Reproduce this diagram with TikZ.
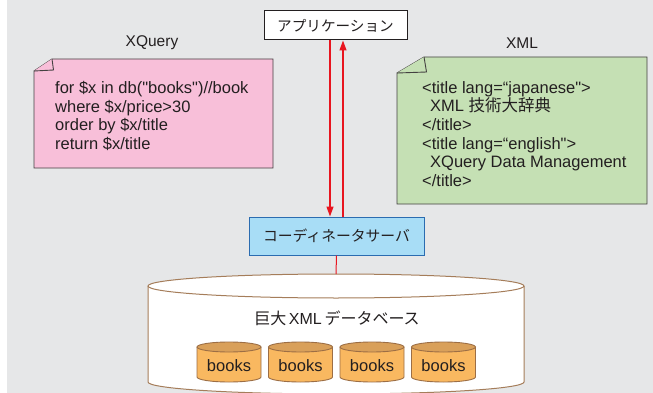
\documentclass[tikz,border=0pt]{standalone}
\usepackage{fontspec}
\setmainfont{Liberation Sans}[Ligatures=TeXOff]
\newfontfamily\jp{Noto Sans CJK JP}
\usetikzlibrary{arrows.meta}
\definecolor{bg}{HTML}{E6E7E8}
\definecolor{notepink}{HTML}{F8BFD9}
\definecolor{notegreen}{HTML}{C5E0B4}
\definecolor{coordblue}{HTML}{A8DDF6}
\definecolor{coordedge}{HTML}{2B6CB0}
\definecolor{bookbody}{HTML}{F9B860}
\definecolor{booktopc}{HTML}{D9A05A}
\definecolor{bookedge}{HTML}{9C6E45}
\definecolor{dbedge}{HTML}{A57D5A}
\definecolor{arrred}{HTML}{E8151F}
\definecolor{ink}{HTML}{231F20}
\begin{document}
\begin{tikzpicture}[x=1pt,y=-1pt,
  noteshape/.style={draw=ink!85,line width=0.9pt},
  codetext/.style={anchor=north west,inner sep=0pt,align=left,text=ink,
    font=\fontsize{16.5}{18.7}\selectfont},
  titletext/.style={inner sep=0pt,text=ink,font=\fontsize{15.5}{18}\selectfont},
  appbox/.style={draw=ink,line width=1pt,fill=white,minimum width=143pt,
    minimum height=29pt,inner sep=0pt,text=ink,font=\jp\fontsize{14.6}{16}\selectfont},
  coordbox/.style={draw=coordedge,line width=1pt,fill=coordblue,minimum width=175pt,
    minimum height=38pt,inner sep=0pt,text=ink,font=\jp\fontsize{14.8}{16}\selectfont},
  redline/.style={draw=arrred,line width=1.3pt},
  redarrow/.style={redline,-{Triangle[length=10pt,width=7pt]}},
  bookline/.style={draw=bookedge,line width=0.9pt},
  booktext/.style={inner sep=0pt,text=ink,font=\fontsize{16.5}{18}\selectfont},
  dblabel/.style={inner sep=0pt,text=ink,font=\fontsize{16}{18}\selectfont}]
\fill[white] (0,0) rectangle (653,393);
\useasboundingbox (0,0) rectangle (653,393);
\fill[bg] (7,0) rectangle (653,393);

% XQuery note
\node[titletext] (xqtitle) at (152,43) {XQuery};
\path[noteshape,fill=notepink] (34,71) -- (52,59) -- (273,59) -- (273,168) -- (34,168) -- cycle;
\path[noteshape,fill=notepink] (52,59) -- (53.5,70) -- (34,71);
\node[codetext] (xqcode) at (55,81) {for \$x in db("books")//book\\where \$x/price>30\\order by \$x/title\\return \$x/title};

% XML note
\node[titletext] (xmltitle) at (522,43) {XML};
\path[noteshape,fill=notegreen] (397,73) -- (424,57) -- (647,57) -- (647,204) -- (397,204) -- cycle;
\path[noteshape,fill=notegreen] (424,57) -- (426.5,72) -- (397,73);
\node[codetext] (xmlcode) at (422,81) {<title lang=“japanese">\\\hspace*{8pt}XML {\jp 技術大辞典}\\</title>\\<title lang=“english">\\\hspace*{8pt}XQuery Data Management\\</title>};

% application and coordinator
\node[appbox] (app) at (335.5,25.5) {アプリケーション};
\node[coordbox] (coord) at (336.5,236) {コーディネータサーバ};
\draw[redarrow] (app.south -| 330,0) -- (coord.north -| 330,0);
\draw[redarrow] (coord.north -| 343,0) -- (app.south -| 343,0);

% database cylinder
\coordinate (dbtop) at (336,274);
\fill[white] (148,286) -- (148,382) arc[start angle=180,end angle=0,x radius=188,y radius=12] -- (524,286) -- cycle;
\draw[draw=dbedge,line width=1pt] (148,286) -- (148,382) arc[start angle=180,end angle=0,x radius=188,y radius=12] -- (524,286);
\draw[draw=dbedge,line width=1pt,fill=white] (336,286) ellipse[x radius=188,y radius=12];
\draw[redline,line width=1pt] (coord.south) -- (dbtop);
\node[dblabel] (dblab) at (337,318) {{\jp 巨大}\,XML\,{\jp データベース}};

% books
\foreach \i/\cx in {1/229,2/300.5,3/372,4/443.5} {
  \fill[bookbody] (\cx-32,347) -- (\cx-32,377) arc[start angle=180,end angle=0,x radius=32,y radius=5] -- (\cx+32,347) -- cycle;
  \draw[bookline] (\cx-32,347) -- (\cx-32,377) arc[start angle=180,end angle=0,x radius=32,y radius=5] -- (\cx+32,347);
  \draw[bookline,fill=booktopc] (\cx,347) ellipse[x radius=32,y radius=5];
  \node[booktext] (book\i) at (\cx,366) {books};
}
\end{tikzpicture}
\end{document}
